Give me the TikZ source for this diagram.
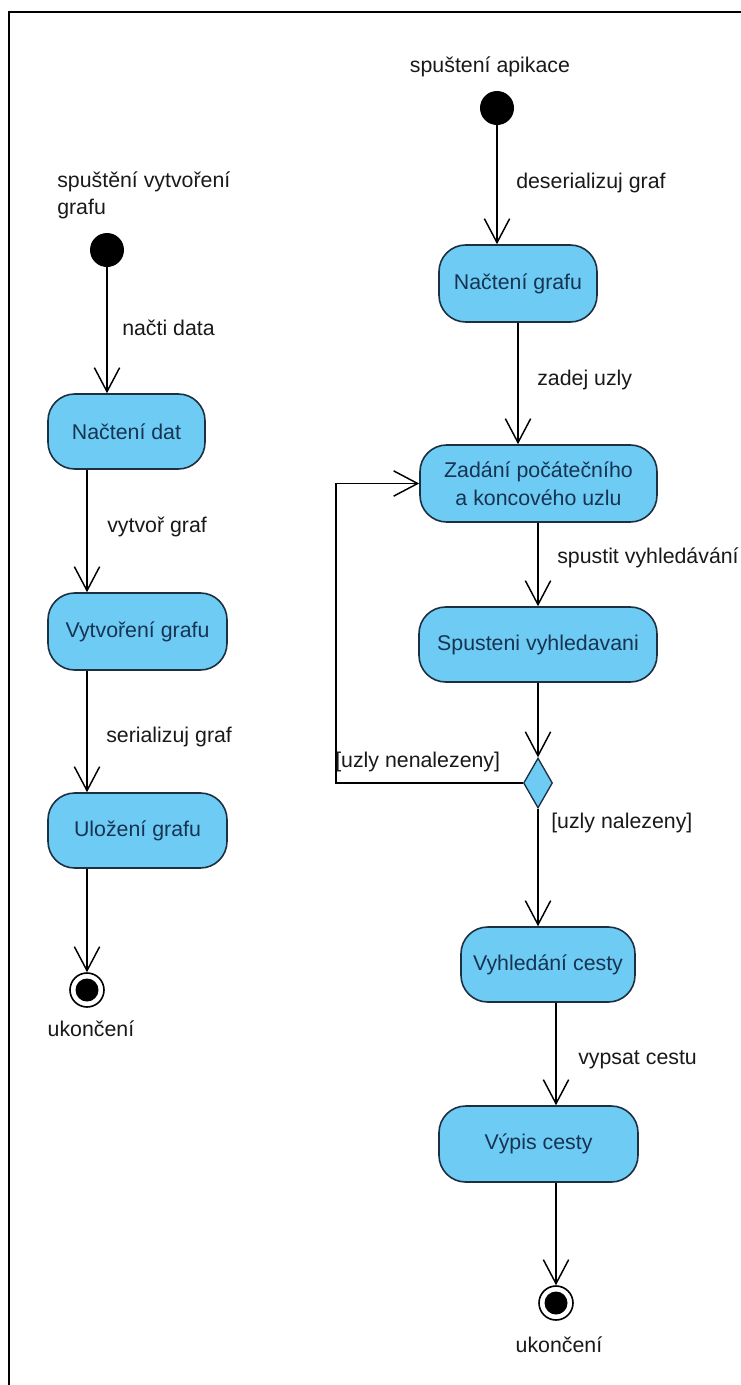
\documentclass[tikz,border=0pt]{standalone}
\usepackage{fontspec}
\setmainfont{Liberation Sans}
\usetikzlibrary{arrows.meta,shapes.geometric}

\definecolor{actfill}{RGB}{110,203,244}
\definecolor{actline}{RGB}{28,48,66}
\definecolor{acttext}{RGB}{22,52,82}
\definecolor{lbltext}{RGB}{25,25,25}

\begin{document}
\begin{tikzpicture}[x=0.75pt,y=-0.75pt,
  action/.style={draw=actline, fill=actfill, line width=1.2pt,
    rounded corners=20pt, text=acttext, align=center, inner sep=0pt,
    font=\fontsize{16}{21}\selectfont},
  decision/.style={diamond, draw=actline, fill=actfill, line width=1pt,
    inner sep=0pt, minimum width=29*0.75pt, minimum height=50*0.75pt},
  initial/.style={circle, fill=black, inner sep=0pt, minimum size=34*0.75pt},
  final/.style={circle, draw=black, line width=1.2pt, fill=white,
    inner sep=0pt, minimum size=34*0.75pt},
  finaldot/.style={circle, fill=black, inner sep=0pt, minimum size=23*0.75pt},
  lbl/.style={text=lbltext, inner sep=0pt, font=\fontsize{16}{20}\selectfont},
  flow/.style={line width=1.1pt, -{Straight Barb[length=18pt,width=19pt]}},
]
\useasboundingbox (0,0) rectangle (741,1385);

% frame
\draw[line width=1.5pt] (9,1385) -- (9,12) -- (741,12);

% ---- left flow: building the graph ----
\node[lbl, anchor=base west, align=left] (lstartlbl) at (57,214)
  {spuštění vytvoření\\grafu};
\node[initial] (lstart) at (107,250) {};
\node[action, minimum width=157*0.75pt, minimum height=75*0.75pt]
  (nacdat) at (126.5,431.5) {Načtení dat};
\node[action, minimum width=179*0.75pt, minimum height=77*0.75pt]
  (vytgraf) at (137.5,631.5) {Vytvoření grafu};
\node[action, minimum width=179*0.75pt, minimum height=75*0.75pt]
  (ulozgraf) at (137.5,830.5) {Uložení grafu};
\node[final] (lend) at (87,990) {};
\node[finaldot] (lenddot) at (lend) {};
\node[lbl] (lendlbl) at (91,1029) {ukončení};

\draw[flow] (lstart) -- (lstart |- nacdat.north);
\draw[flow] (lend |- nacdat.south) -- (lend |- vytgraf.north);
\draw[flow] (lend |- vytgraf.south) -- (lend |- ulozgraf.north);
\draw[flow] (lend |- ulozgraf.south) -- (lend);

\node[lbl, anchor=west] (t1) at (122,328) {načti data};
\node[lbl, anchor=west] (t2) at (107,527) {vytvoř graf};
\node[lbl, anchor=west] (t3) at (106,737) {serializuj graf};

% ---- right flow: searching a path ----
\node[lbl] (rstartlbl) at (490,67) {spuštení apikace};
\node[initial] (rstart) at (497,108) {};
\node[action, minimum width=158*0.75pt, minimum height=77*0.75pt]
  (nacgraf) at (518,283.5) {Načtení grafu};
\node[action, minimum width=237*0.75pt, minimum height=77*0.75pt]
  (zadani) at (538.5,483.5) {Zadání počátečního\\a koncového uzlu};
\node[action, minimum width=238*0.75pt, minimum height=75*0.75pt]
  (spusteni) at (538,644.5) {Spusteni vyhledavani};
\node[decision] (dec) at (538,783) {};
\node[action, minimum width=174*0.75pt, minimum height=75*0.75pt]
  (vyhl) at (548,964.5) {Vyhledání cesty};
\node[action, minimum width=199*0.75pt, minimum height=76*0.75pt]
  (vypis) at (538.5,1144) {Výpis cesty};
\node[final] (rend) at (556,1303) {};
\node[finaldot] (renddot) at (rend) {};
\node[lbl] (rendlbl) at (559,1345) {ukončení};

\draw[flow] (rstart) -- (rstart |- nacgraf.north);
\draw[flow] (nacgraf.south) -- (nacgraf.south |- zadani.north);
\draw[flow] (dec |- zadani.south) -- (dec |- spusteni.north);
\draw[flow] (dec |- spusteni.south) -- (dec.north);
\draw[flow] (dec.west) -- ++(-187,0) |- (zadani.west);
\draw[flow] (dec.south) -- (dec.south |- vyhl.north);
\draw[flow] (rend |- vyhl.south) -- (rend |- vypis.north);
\draw[flow] (rend |- vypis.south) -- (rend);

\node[lbl, anchor=west] (t4) at (516,183) {deserializuj graf};
\node[lbl, anchor=west] (t5) at (537,380) {zadej uzly};
\node[lbl, anchor=west] (t6) at (557,558) {spustit vyhledávání};
\node[lbl, anchor=west] (t7) at (335,762) {[uzly nenalezeny]};
\node[lbl, anchor=west] (t8) at (551,823) {[uzly nalezeny]};
\node[lbl, anchor=west] (t9) at (578,1060) {vypsat cestu};
\end{tikzpicture}
\end{document}
